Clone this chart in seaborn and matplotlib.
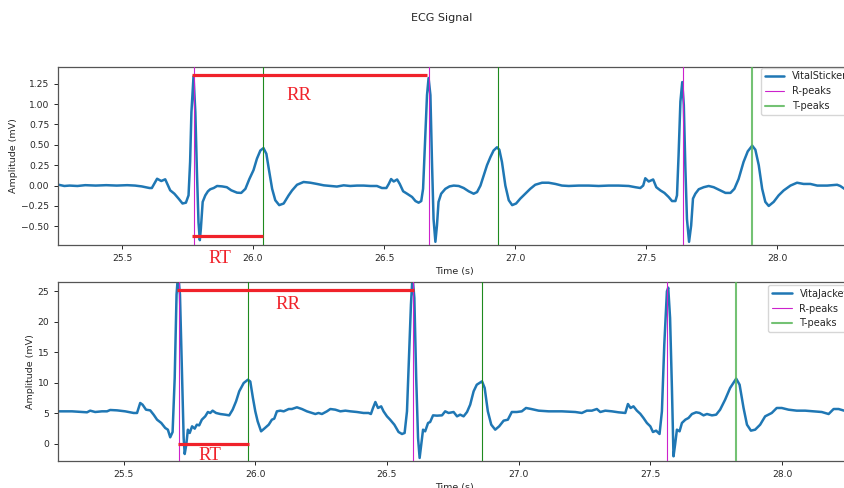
import matplotlib
matplotlib.use("Agg")
import matplotlib.pyplot as plt
import seaborn as sns
import pandas as pd
from matplotlib.lines import Line2D

# ---------------- data ----------------
vs_time = [25.258, 25.28, 25.30, 25.33, 25.36, 25.40, 25.44, 25.48, 25.52, 25.55, 25.575, 25.605,
           25.614, 25.634, 25.650, 25.665, 25.684, 25.700, 25.716, 25.731, 25.744, 25.754, 25.760,
           25.765, 25.773, 25.780, 25.786, 25.792, 25.797, 25.801, 25.808, 25.818, 25.828, 25.837,
           25.850, 25.863, 25.882, 25.900, 25.917, 25.939, 25.955, 25.971, 25.986, 26.002, 26.015,
           26.028, 26.040, 26.051, 26.060, 26.073, 26.085, 26.100, 26.117, 26.136, 26.149, 26.168,
           26.193, 26.219, 26.244, 26.270, 26.295, 26.320, 26.346, 26.371, 26.397, 26.422, 26.448,
           26.473, 26.492, 26.509, 26.518, 26.527, 26.537, 26.550, 26.560, 26.573, 26.588, 26.607,
           26.620, 26.632, 26.642, 26.649, 26.656, 26.664, 26.670, 26.677, 26.683, 26.689, 26.696,
           26.702, 26.708, 26.718, 26.734, 26.750, 26.766, 26.785, 26.804, 26.823, 26.842, 26.855,
           26.868, 26.880, 26.893, 26.906, 26.918, 26.931, 26.940, 26.950, 26.963, 26.976, 26.989,
           27.004, 27.020, 27.039, 27.058, 27.077, 27.103, 27.128, 27.154, 27.179, 27.205, 27.243,
           27.281, 27.319, 27.357, 27.395, 27.434, 27.459, 27.478, 27.489, 27.497, 27.510, 27.527,
           27.539, 27.555, 27.570, 27.586, 27.599, 27.612, 27.618, 27.624, 27.631, 27.638, 27.644,
           27.650, 27.656, 27.664, 27.672, 27.679, 27.688, 27.701, 27.720, 27.739, 27.758, 27.784,
           27.803, 27.822, 27.837, 27.853, 27.872, 27.888, 27.905, 27.917, 27.930, 27.943, 27.955,
           27.968, 27.987, 28.006, 28.025, 28.051, 28.076, 28.101, 28.127, 28.153, 28.191, 28.229,
           28.241, 28.257, 28.280]
vs_mv = [0.01, -0.005, 0.0, -0.005, 0.005, 0.0, 0.005, 0.0, 0.005, 0.0, -0.01, -0.03,
         -0.03, 0.084, 0.056, 0.077, -0.058, -0.10, -0.16, -0.22, -0.21, -0.12, 0.29,
         0.90, 1.34, 0.90, 0.17, -0.45, -0.67, -0.53, -0.20, -0.12, -0.07, -0.045,
         -0.03, -0.005, -0.01, -0.02, -0.058, -0.087, -0.09, -0.04, 0.08, 0.19, 0.33,
         0.43, 0.46, 0.39, 0.21, -0.04, -0.18, -0.24, -0.22, -0.12, -0.06, 0.01,
         0.044, 0.035, 0.02, 0.003, -0.005, -0.012, 0.003, -0.005, 0.0, 0.0, -0.005,
         -0.005, -0.03, -0.03, 0.02, 0.08, 0.05, 0.075, 0.02, -0.07, -0.10, -0.14,
         -0.19, -0.21, -0.19, -0.04, 0.49, 1.11, 1.32, 1.11, 0.29, -0.41, -0.69,
         -0.49, -0.20, -0.10, -0.04, -0.01, 0.0, -0.005, -0.03, -0.07, -0.10, -0.08,
         0.0, 0.12, 0.25, 0.35, 0.43, 0.47, 0.44, 0.29, 0.0, -0.18, -0.24,
         -0.22, -0.16, -0.10, -0.04, 0.01, 0.035, 0.035, 0.02, 0.0, -0.005, 0.0,
         0.0, -0.005, 0.0, 0.0, -0.005, -0.02, -0.03, 0.0, 0.09, 0.05, 0.075,
         -0.02, -0.06, -0.09, -0.14, -0.19, -0.19, -0.12, 0.37, 1.03, 1.27, 0.99,
         0.21, -0.41, -0.69, -0.49, -0.16, -0.10, -0.045, -0.02, -0.005, -0.02, -0.06,
         -0.09, -0.09, -0.04, 0.08, 0.29, 0.42, 0.49, 0.44, 0.25, -0.04, -0.20,
         -0.25, -0.20, -0.12, -0.06, 0.0, 0.035, 0.02, 0.02, 0.0, 0.0, 0.01,
         -0.005, -0.04, -0.05]

vj_time = [25.253, 25.304, 25.361, 25.373, 25.392, 25.418, 25.437, 25.449, 25.475, 25.506, 25.538,
           25.551, 25.563, 25.572, 25.585, 25.601, 25.614, 25.627, 25.643, 25.658, 25.668, 25.677,
           25.686, 25.694, 25.701, 25.707, 25.714, 25.722, 25.728, 25.732, 25.738, 25.744, 25.751,
           25.760, 25.770, 25.778, 25.787, 25.797, 25.810, 25.820, 25.829, 25.838, 25.851, 25.867,
           25.886, 25.901, 25.914, 25.927, 25.939, 25.956, 25.972, 25.981, 25.991, 26.000, 26.009,
           26.022, 26.034, 26.051, 26.063, 26.072, 26.082, 26.095, 26.108, 26.127, 26.139, 26.158,
           26.177, 26.196, 26.215, 26.228, 26.240, 26.253, 26.272, 26.285, 26.304, 26.323, 26.342,
           26.361, 26.386, 26.411, 26.430, 26.439, 26.447, 26.456, 26.466, 26.478, 26.487, 26.500,
           26.512, 26.528, 26.544, 26.557, 26.567, 26.576, 26.583, 26.591, 26.597, 26.604, 26.611,
           26.618, 26.624, 26.630, 26.637, 26.645, 26.656, 26.664, 26.675, 26.690, 26.709, 26.721,
           26.734, 26.753, 26.766, 26.778, 26.791, 26.804, 26.816, 26.829, 26.841, 26.861, 26.871,
           26.883, 26.896, 26.911, 26.926, 26.943, 26.959, 26.974, 26.993, 27.012, 27.028, 27.048,
           27.076, 27.114, 27.164, 27.215, 27.240, 27.259, 27.278, 27.297, 27.310, 27.329, 27.354,
           27.379, 27.405, 27.415, 27.425, 27.436, 27.449, 27.462, 27.474, 27.487, 27.500, 27.510,
           27.522, 27.535, 27.544, 27.553, 27.563, 27.568, 27.575, 27.582, 27.588, 27.594, 27.601,
           27.611, 27.620, 27.633, 27.645, 27.658, 27.674, 27.687, 27.702, 27.715, 27.734, 27.750,
           27.765, 27.784, 27.803, 27.826, 27.839, 27.854, 27.867, 27.882, 27.898, 27.917, 27.936,
           27.961, 27.980, 27.999, 28.025, 28.056, 28.088, 28.120, 28.151, 28.177, 28.196, 28.215,
           28.236, 28.260]
vj_mv = [5.31, 5.31, 5.15, 5.42, 5.20, 5.31, 5.31, 5.53, 5.47, 5.31, 5.04,
         5.04, 6.68, 6.40, 5.58, 5.47, 4.76, 3.94, 3.40, 2.58, 2.30, 1.05,
         1.92, 10.78, 24.45, 28.0, 24.45, 10.78, 0.94, -1.69, -0.16, 2.30, 1.76,
         2.85, 2.47, 3.12, 3.01, 3.94, 4.49, 5.20, 5.04, 5.42, 5.04, 4.87,
         4.76, 4.65, 5.58, 6.95, 8.59, 9.96, 10.50, 10.2, 7.5, 5.31, 3.67,
         2.03, 2.47, 3.12, 3.94, 4.11, 5.31, 5.42, 5.31, 5.69, 5.69, 5.97,
         5.69, 5.31, 5.04, 4.87, 5.04, 4.87, 5.31, 5.69, 5.58, 5.31, 5.42,
         5.31, 5.20, 5.04, 5.04, 4.87, 5.86, 6.84, 5.86, 6.13, 5.31, 4.49,
         3.94, 3.12, 1.92, 1.59, 1.76, 5.31, 13.51, 22.8, 27.5, 23.9, 10.78,
         0.94, -2.34, -0.16, 2.30, 2.03, 3.40, 3.56, 4.65, 4.60, 4.65, 5.31,
         5.04, 5.20, 4.49, 4.76, 4.49, 5.20, 6.40, 8.59, 9.68, 10.23, 9.14,
         5.31, 3.12, 2.30, 2.85, 3.78, 3.94, 5.20, 5.20, 5.31, 5.86, 5.69,
         5.42, 5.31, 5.31, 5.20, 5.04, 5.42, 5.42, 5.69, 5.20, 5.42, 5.31,
         5.15, 5.04, 6.51, 5.86, 6.13, 5.42, 4.90, 4.22, 3.40, 2.85, 1.92,
         2.14, 1.59, 5.31, 16.25, 25.0, 25.6, 20.62, 9.14, -2.07, -0.16, 2.30,
         2.03, 3.40, 3.94, 4.22, 4.87, 5.15, 5.04, 4.65, 4.87, 4.65, 4.76,
         5.58, 7.22, 9.14, 10.67, 9.68, 5.86, 3.12, 2.14, 2.30, 3.12, 4.49,
         5.04, 5.86, 5.86, 5.58, 5.42, 5.42, 5.31, 5.20, 4.87, 5.69, 5.69,
         5.42, 5.40]

vs_r_peaks = [25.773, 26.670, 27.641]
vs_t_peaks = [26.040, 26.935, 27.905]
vj_r_peaks = [25.709, 26.597, 27.563]
vj_t_peaks = [25.972, 26.861, 27.826]

# interval annotations: (start, end, level) and label (x, y)
vs_rr = [25.767, 26.664, 1.353]
vs_rt = [25.767, 26.040, -0.622]
vj_rr = [25.703, 26.601, 25.2]
vj_rt = [25.706, 25.975, -0.05]
vs_rr_label = [26.174, 1.100]
vs_rt_label = [25.875, -0.895]
vj_rr_label = [26.123, 22.9]
vj_rt_label = [25.829, -2.0]

series_names = ["VitalSticker", "VitaJacket"]
legend_labels = ["R-peaks", "T-peaks"]
title = "ECG Signal"
xlabel = "Time (s)"
ylabel = "Amplitude (mV)"

# ---------------- plot ----------------
sns.set_style("ticks")
plt.rcParams["font.family"] = ["DejaVu Sans"]

W, H = 844, 488
fig = plt.figure(figsize=(W / 100, H / 100), dpi=100)

left = 58.3 / W
width = (851 - 58.3) / W
ax1 = fig.add_axes([left, 1 - 245.3 / H, width, (245.3 - 66.7) / H])
ax2 = fig.add_axes([left, 1 - 460.7 / H, width, (460.7 - 282.0) / H])

BLUE = "#1f77b4"
RED = "#f0222a"
MAGENTA = "#cc22cc"
DKGREEN = "#1e8a1e"
LTGREEN = "#5cb85c"

panels = [
    (ax1, vs_time, vs_mv, series_names[0], vs_r_peaks, vs_t_peaks, vs_rr, vs_rt,
     vs_rr_label, vs_rt_label, (25.257, 28.282), (-0.733, 1.459), (0.886, 0.995)),
    (ax2, vj_time, vj_mv, series_names[1], vj_r_peaks, vj_t_peaks, vj_rr, vj_rt,
     vj_rr_label, vj_rt_label, (25.252, 28.262), (-2.79, 26.53), (0.8957, 0.984)),
]

for (ax, t, v, name, rp, tp, rr, rt, rrl, rtl, xl, yl, lg) in panels:
    df = pd.DataFrame({"time": t, "mv": v})
    sns.lineplot(data=df, x="time", y="mv", ax=ax, color=BLUE, linewidth=1.8,
                 sort=True, estimator=None, zorder=2, solid_joinstyle="round")
    for i, x in enumerate(rp):
        ax.axvline(x, color=MAGENTA, linewidth=0.8, zorder=3)
    for i, x in enumerate(tp):
        if i < len(tp) - 1:
            ax.axvline(x, color=DKGREEN, linewidth=0.8, zorder=3)
        else:
            ax.axvline(x, color=LTGREEN, alpha=0.85, linewidth=1.5, zorder=3)
    ax.hlines(rr[2], rr[0], rr[1], color=RED, linewidth=2.3, zorder=4)
    ax.hlines(rt[2], rt[0], rt[1], color=RED, linewidth=2.3, zorder=4, clip_on=False)
    ax.text(rrl[0], rrl[1], "RR", color=RED, fontsize=13.5, family="Liberation Serif",
            ha="center", va="center")
    ax.text(rtl[0], rtl[1], "RT", color=RED, fontsize=13.5, family="Liberation Serif",
            ha="center", va="center", clip_on=False)
    ax.set_xlim(*xl)
    ax.set_ylim(*yl)
    ax.set_xlabel(xlabel, fontsize=6.8, labelpad=3)
    ax.set_ylabel(ylabel, fontsize=6.8, labelpad=2)
    ax.tick_params(labelsize=6.6, length=3, width=0.7)
    for s in ax.spines.values():
        s.set_linewidth(0.9)
        s.set_color("#555555")
        s.set_visible(True)
    handles = [
        Line2D([0], [0], color=BLUE, linewidth=1.8),
        Line2D([0], [0], color=MAGENTA, linewidth=0.8),
        Line2D([0], [0], color=LTGREEN, alpha=0.85, linewidth=1.5),
    ]
    ax.legend(handles, [name] + legend_labels, loc="upper left", bbox_to_anchor=lg,
              borderaxespad=0, fontsize=7, frameon=True, fancybox=True,
              framealpha=0.8, edgecolor="#cccccc", labelspacing=0.5)

ax1.set_yticks([-0.5, -0.25, 0.0, 0.25, 0.5, 0.75, 1.0, 1.25])
ax2.set_yticks([0, 5, 10, 15, 20, 25])

fig.text(442 / W, 1 - 18 / H, title, ha="center", va="center", fontsize=8)

fig.savefig("out.png", dpi=100)
